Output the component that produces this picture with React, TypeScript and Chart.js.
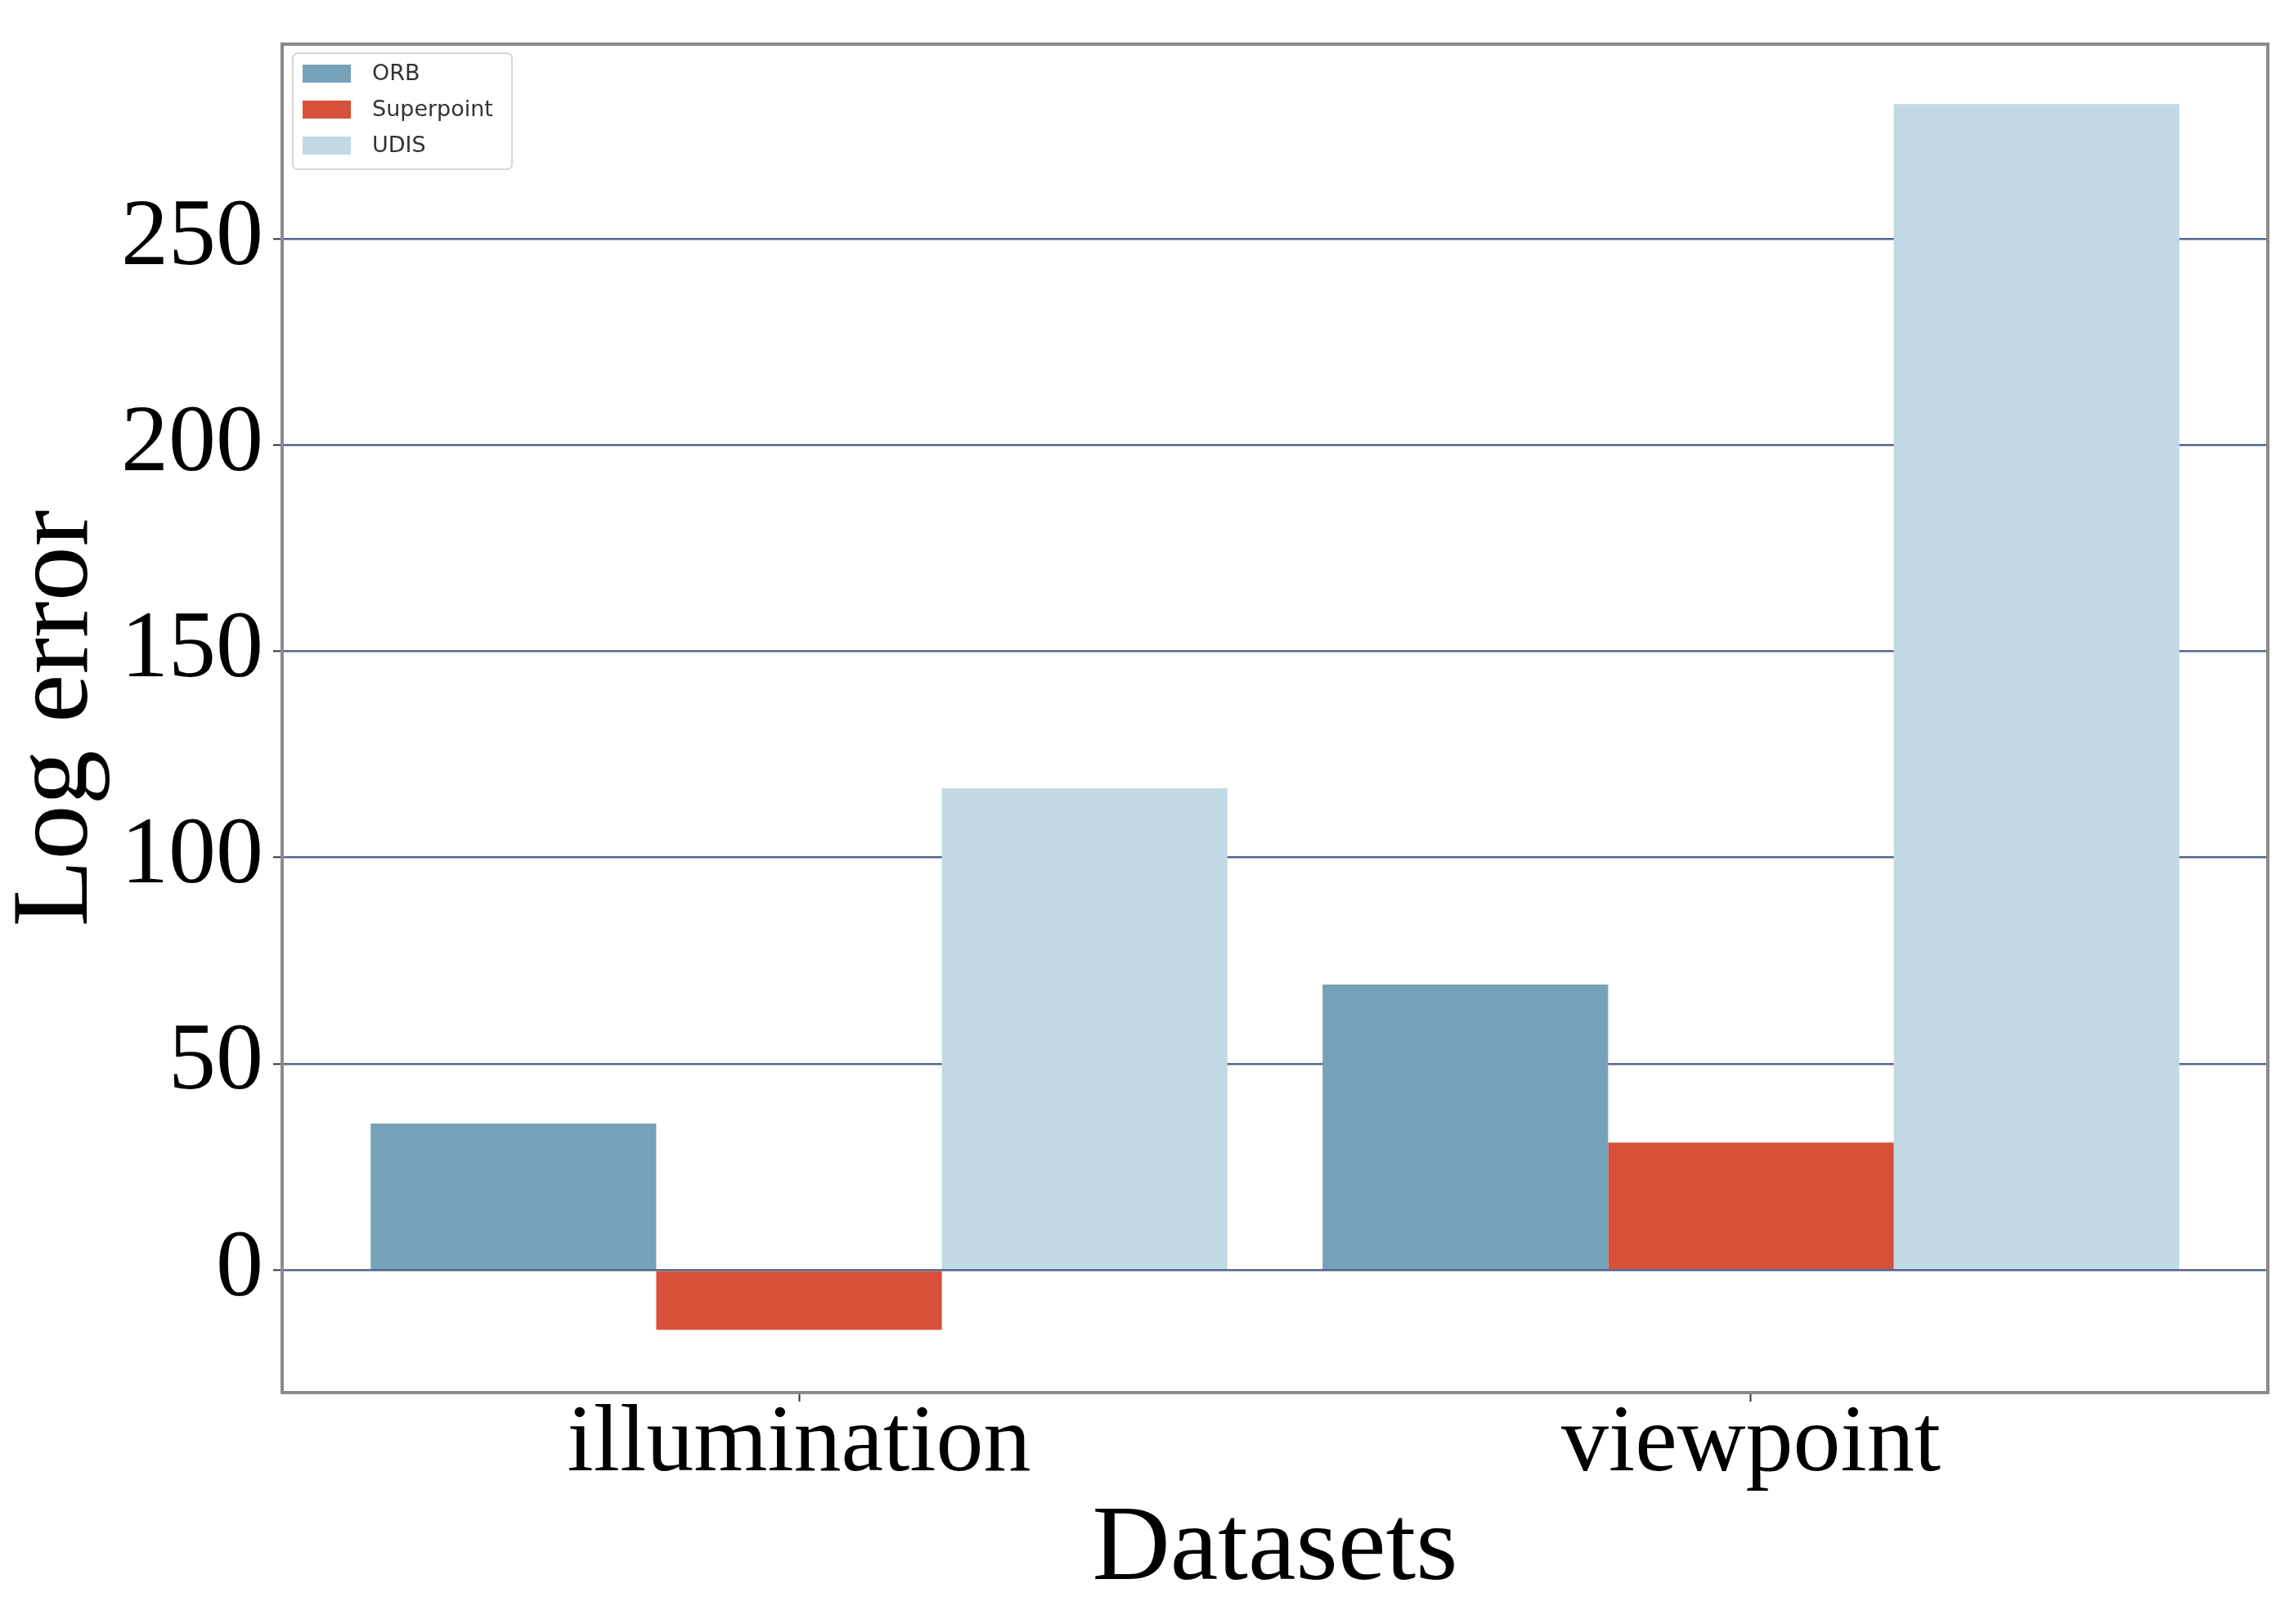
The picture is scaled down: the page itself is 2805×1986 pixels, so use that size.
import React, { useEffect, useRef } from "react";
import { Chart, registerables } from "chart.js";

Chart.register(...registerables);

const categories = ["illumination", "viewpoint"];
const seriesNames = ["ORB", "Superpoint", "UDIS"];
const orbValues = [35.5, 69.2];
const superpointValues = [-14.5, 30.9];
const udisValues = [116.8, 282.7];
const seriesColors = ["#76a2b9", "#d6503a", "#c1d9e4"];
const yTicks = [0, 50, 100, 150, 200, 250];
const yMin = -29.7;
const yMax = 297.2;
const xMin = -0.543;
const xMax = 1.543;

const W = 2805;
const H = 1986;

const framePlugin = {
  id: "frame",
  afterDatasetsDraw(chart: any) {
    const { ctx, chartArea } = chart;
    ctx.save();
    ctx.strokeStyle = "#8a8a8a";
    ctx.lineWidth = 4;
    ctx.strokeRect(chartArea.left, chartArea.top, chartArea.right - chartArea.left, chartArea.bottom - chartArea.top);
    ctx.restore();
  },
};

const legendPlugin = {
  id: "innerLegend",
  afterDraw(chart: any) {
    const { ctx, chartArea } = chart;
    const x0 = chartArea.left + 13;
    const y0 = chartArea.top + 11;
    const bw = 268;
    const bh = 142;
    ctx.save();
    ctx.beginPath();
    const r = 7;
    ctx.moveTo(x0 + r, y0);
    ctx.lineTo(x0 + bw - r, y0);
    ctx.quadraticCurveTo(x0 + bw, y0, x0 + bw, y0 + r);
    ctx.lineTo(x0 + bw, y0 + bh - r);
    ctx.quadraticCurveTo(x0 + bw, y0 + bh, x0 + bw - r, y0 + bh);
    ctx.lineTo(x0 + r, y0 + bh);
    ctx.quadraticCurveTo(x0, y0 + bh, x0, y0 + bh - r);
    ctx.lineTo(x0, y0 + r);
    ctx.quadraticCurveTo(x0, y0, x0 + r, y0);
    ctx.closePath();
    ctx.fillStyle = "rgba(255,255,255,0.85)";
    ctx.fill();
    ctx.strokeStyle = "#d6d6d6";
    ctx.lineWidth = 2;
    ctx.stroke();
    chart.data.datasets.forEach((ds: any, i: number) => {
      const cy = y0 + 25 + i * 44;
      ctx.fillStyle = ds.backgroundColor;
      ctx.fillRect(x0 + 12, cy - 11, 59, 22);
      ctx.fillStyle = "#333333";
      ctx.font = "27px 'DejaVu Sans'";
      ctx.textBaseline = "middle";
      ctx.textAlign = "left";
      ctx.fillText(ds.label, x0 + 97, cy + 1);
    });
    ctx.restore();
  },
};

export default function App() {
  const ref = useRef<HTMLCanvasElement | null>(null);

  useEffect(() => {
    if (!ref.current) return;
    const valueSets = [orbValues, superpointValues, udisValues];
    const chart = new Chart(ref.current, {
      type: "bar",
      data: {
        datasets: seriesNames.map((name, s) => ({
          label: name,
          data: valueSets[s].map((v, i) => ({ x: i, y: v })),
          backgroundColor: seriesColors[s],
          borderWidth: 0,
          categoryPercentage: 0.9,
          barPercentage: 1.0,
        })),
      },
      options: {
        responsive: false,
        animation: false,
        devicePixelRatio: 1,
        layout: { padding: { left: 0, top: 54, right: 32, bottom: 0 } },
        plugins: {
          legend: { display: false },
          tooltip: { enabled: false },
        },
        scales: {
          x: {
            type: "linear",
            min: xMin,
            max: xMax,
            offset: false,
            afterBuildTicks: (scale: any) => {
              scale.ticks = categories.map((_, i) => ({ value: i }));
            },
            afterFit: (scale: any) => {
              scale.height = H - 1703;
            },
            ticks: {
              autoSkip: false,
              maxRotation: 0,
              minRotation: 0,
              padding: 1,
              color: "#000000",
              font: { family: "'Liberation Serif'", size: 116, lineHeight: 0.9 },
              callback: (v: any) => categories[Math.round(Number(v))] ?? "",
            },
            grid: {
              offset: false,
              drawOnChartArea: false,
              drawTicks: true,
              tickLength: 11,
              tickColor: "#333333",
              tickWidth: 2,
            },
            border: { display: false },
            title: {
              display: true,
              text: "Datasets",
              color: "#000000",
              font: { family: "'Liberation Serif'", size: 132, lineHeight: 1 },
              padding: { top: 0, bottom: 24 },
            },
          },
          y: {
            type: "linear",
            min: yMin,
            max: yMax,
            afterBuildTicks: (scale: any) => {
              scale.ticks = yTicks.map((v) => ({ value: v }));
            },
            afterFit: (scale: any) => {
              scale.width = 345;
              scale.paddingTop = 0;
              scale.paddingBottom = 0;
            },
            ticks: {
              autoSkip: false,
              padding: 12,
              color: "#000000",
              font: { family: "'Liberation Serif'", size: 116, lineHeight: 0.4 },
            },
            grid: {
              color: "#52678c",
              lineWidth: 2.5,
              drawTicks: true,
              tickLength: 11,
              tickColor: "#333333",
              tickWidth: 2,
            },
            border: { display: false },
            title: {
              display: true,
              text: "Log error",
              color: "#000000",
              font: { family: "'Liberation Serif'", size: 134, lineHeight: 1 },
              padding: { top: 4, bottom: 0 },
            },
          },
        },
      },
      plugins: [framePlugin, legendPlugin],
    } as any);
    return () => chart.destroy();
  }, []);

  return (
    <div style={{ position: "absolute", left: 0, top: 0, width: W, height: H, background: "#ffffff" }}>
      <canvas ref={ref} width={W} height={H} style={{ width: W, height: H, display: "block" }} />
    </div>
  );
}
